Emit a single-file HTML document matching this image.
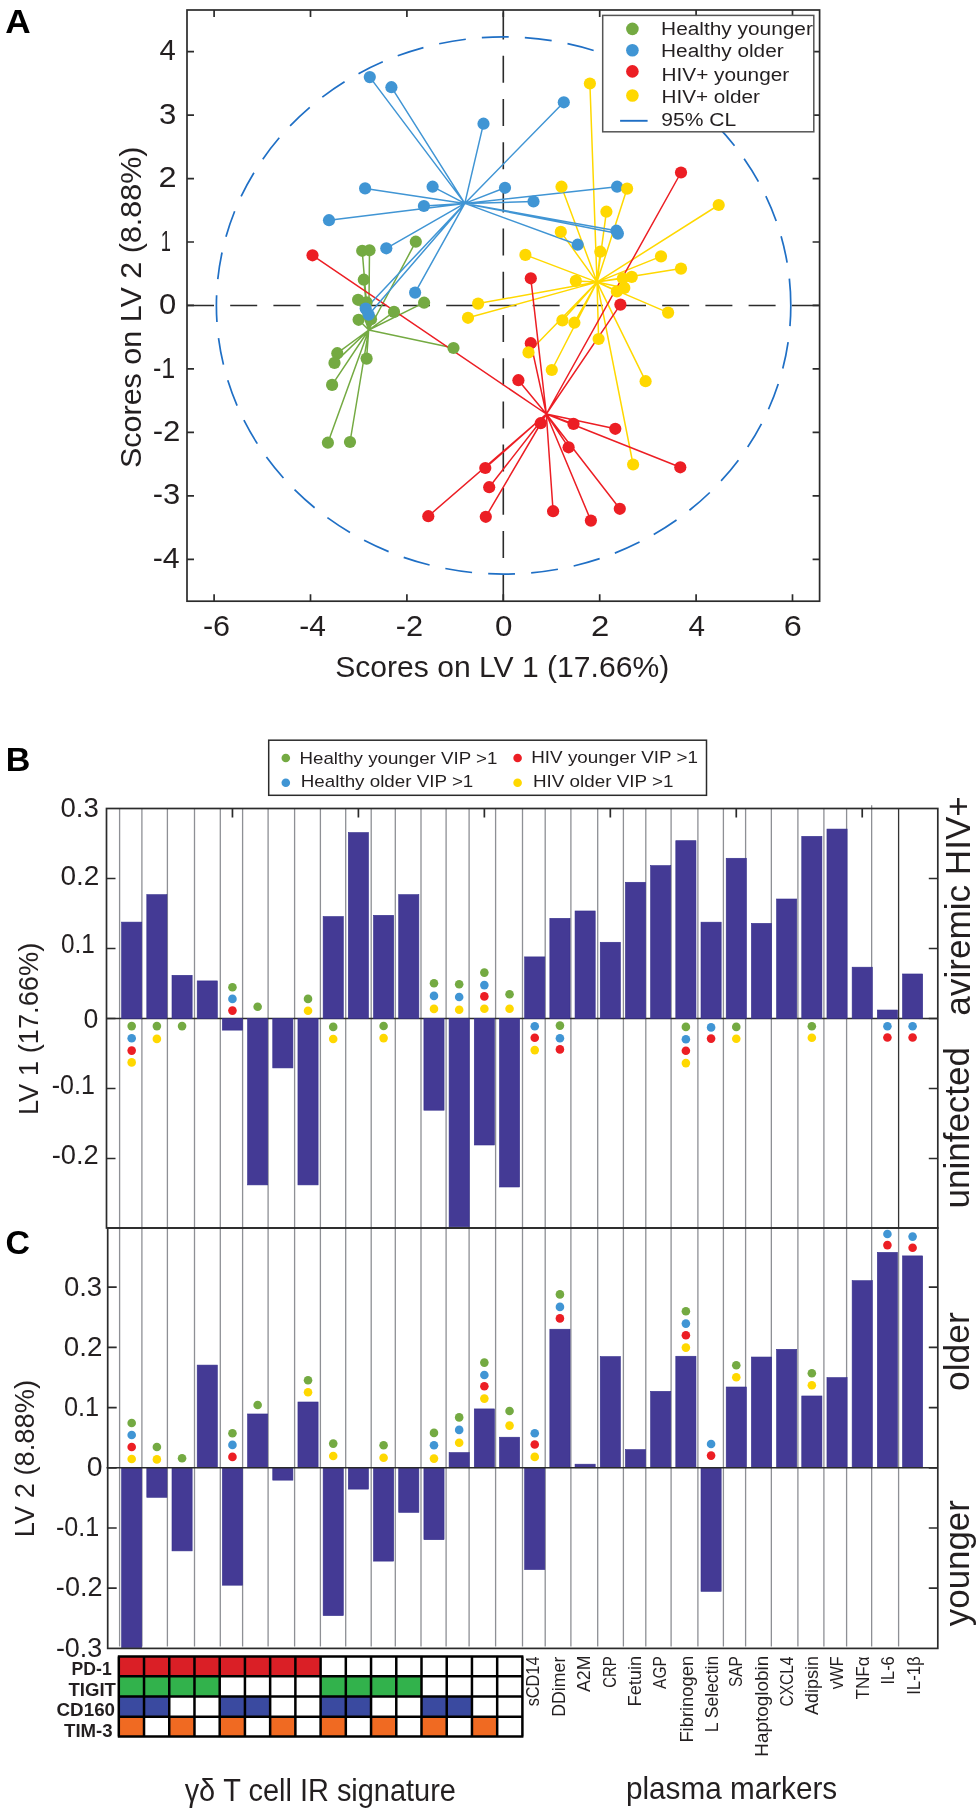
<!DOCTYPE html>
<html><head><meta charset="utf-8"><title>Figure</title>
<style>html,body{margin:0;padding:0;background:#fff;}svg{display:block;will-change:transform;}text{font-family:'Liberation Sans', sans-serif;}</style>
</head><body>
<svg width="980" height="1815" viewBox="0 0 980 1815">
<rect x="0" y="0" width="980" height="1815" fill="#fff"/>
<text x="5.22" y="32.80" font-size="33" font-weight="bold" fill="#000" textLength="25.44" lengthAdjust="spacingAndGlyphs">A</text>
<text x="5.70" y="770.90" font-size="33" font-weight="bold" fill="#000" textLength="24.63" lengthAdjust="spacingAndGlyphs">B</text>
<text x="5.54" y="1253.80" font-size="33" font-weight="bold" fill="#000" textLength="24.48" lengthAdjust="spacingAndGlyphs">C</text>
<line x1="187.0" y1="305.45" x2="819.6" y2="305.45" stroke="#2b2b2b" stroke-width="1.6" stroke-dasharray="27 16.2"/>
<line x1="503.3" y1="601.2" x2="503.3" y2="10.0" stroke="#2b2b2b" stroke-width="1.6" stroke-dasharray="27 16.2"/>
<path d="M790.8,305.5 A287.2,268.6 0 0 0 503.6,36.89999999999998 A287.2,268.6 0 0 0 216.40000000000003,305.5 A287.2,268.6 0 0 0 503.6,574.1 A287.2,268.6 0 0 0 790.8,305.5" fill="none" stroke="#1f6fc5" stroke-width="1.7" stroke-dasharray="27 16.13"/>
<path d="M368.7,330.0L362.2,250.8M368.7,330.0L369.5,250.3M368.7,330.0L415.8,241.7M368.7,330.0L363.8,279.7M368.7,330.0L358.1,299.8M368.7,330.0L366.5,302.4M368.7,330.0L424.1,302.7M368.7,330.0L394.0,311.9M368.7,330.0L358.6,319.8M368.7,330.0L371.0,319.2M368.7,330.0L453.5,348.0M368.7,330.0L337.3,353.2M368.7,330.0L334.5,362.9M368.7,330.0L366.6,358.6M368.7,330.0L332.1,384.9M368.7,330.0L327.9,442.7M368.7,330.0L350.0,442.0" stroke="#74aa42" stroke-width="1.5" fill="none"/>
<path d="M597.0,282.1L589.9,83.5M597.0,282.1L561.5,186.7M597.0,282.1L627.1,188.6M597.0,282.1L606.4,211.7M597.0,282.1L718.7,205.0M597.0,282.1L560.8,231.9M597.0,282.1L600.3,251.7M597.0,282.1L525.4,254.9M597.0,282.1L661.0,256.4M597.0,282.1L681.0,268.6M597.0,282.1L575.8,280.9M597.0,282.1L622.9,278.3M597.0,282.1L631.7,276.9M597.0,282.1L624.3,287.9M597.0,282.1L616.9,291.4M597.0,282.1L668.1,312.6M597.0,282.1L562.4,320.4M597.0,282.1L574.4,322.7M597.0,282.1L598.6,339.0M597.0,282.1L528.5,352.4M597.0,282.1L551.8,370.0M597.0,282.1L645.6,381.2M597.0,282.1L633.1,464.5M597.0,282.1L478.1,303.6M597.0,282.1L468.0,317.8" stroke="#ffd800" stroke-width="1.5" fill="none"/>
<path d="M546.3,414.0L312.5,255.3M546.3,414.0L681.0,172.5M546.3,414.0L530.8,278.3M546.3,414.0L620.4,304.6M546.3,414.0L530.8,343.2M546.3,414.0L518.4,380.2M546.3,414.0L540.7,423.2M546.3,414.0L573.5,423.9M546.3,414.0L615.3,428.8M546.3,414.0L568.6,447.3M546.3,414.0L680.3,467.3M546.3,414.0L485.3,468.0M546.3,414.0L489.2,487.2M546.3,414.0L428.3,516.2M546.3,414.0L485.8,516.8M546.3,414.0L553.1,511.2M546.3,414.0L619.8,508.8M546.3,414.0L590.9,520.6" stroke="#ec1e24" stroke-width="1.5" fill="none"/>
<path d="M464.8,203.4L369.8,77.1M464.8,203.4L391.4,87.2M464.8,203.4L483.5,123.7M464.8,203.4L365.1,188.4M464.8,203.4L432.6,186.7M464.8,203.4L423.9,206.0M464.8,203.4L329.0,220.2M464.8,203.4L505.0,187.8M464.8,203.4L386.3,248.3M464.8,203.4L415.1,292.6M464.8,203.4L365.7,308.6M464.8,203.4L368.7,314.7M464.8,203.4L563.8,102.3M464.8,203.4L617.1,186.7M464.8,203.4L533.5,201.5M464.8,203.4L616.4,230.7M464.8,203.4L617.9,233.6M464.8,203.4L577.7,244.7" stroke="#4095d4" stroke-width="1.5" fill="none"/>
<circle cx="362.2" cy="250.8" r="6.1" fill="#74aa42"/>
<circle cx="369.5" cy="250.3" r="6.1" fill="#74aa42"/>
<circle cx="415.8" cy="241.7" r="6.1" fill="#74aa42"/>
<circle cx="363.8" cy="279.7" r="6.1" fill="#74aa42"/>
<circle cx="358.1" cy="299.8" r="6.1" fill="#74aa42"/>
<circle cx="366.5" cy="302.4" r="6.1" fill="#74aa42"/>
<circle cx="424.1" cy="302.7" r="6.1" fill="#74aa42"/>
<circle cx="394.0" cy="311.9" r="6.1" fill="#74aa42"/>
<circle cx="358.6" cy="319.8" r="6.1" fill="#74aa42"/>
<circle cx="371.0" cy="319.2" r="6.1" fill="#74aa42"/>
<circle cx="453.5" cy="348.0" r="6.1" fill="#74aa42"/>
<circle cx="337.3" cy="353.2" r="6.1" fill="#74aa42"/>
<circle cx="334.5" cy="362.9" r="6.1" fill="#74aa42"/>
<circle cx="366.6" cy="358.6" r="6.1" fill="#74aa42"/>
<circle cx="332.1" cy="384.9" r="6.1" fill="#74aa42"/>
<circle cx="327.9" cy="442.7" r="6.1" fill="#74aa42"/>
<circle cx="350.0" cy="442.0" r="6.1" fill="#74aa42"/>
<circle cx="369.8" cy="77.1" r="6.1" fill="#4095d4"/>
<circle cx="391.4" cy="87.2" r="6.1" fill="#4095d4"/>
<circle cx="483.5" cy="123.7" r="6.1" fill="#4095d4"/>
<circle cx="365.1" cy="188.4" r="6.1" fill="#4095d4"/>
<circle cx="432.6" cy="186.7" r="6.1" fill="#4095d4"/>
<circle cx="423.9" cy="206.0" r="6.1" fill="#4095d4"/>
<circle cx="329.0" cy="220.2" r="6.1" fill="#4095d4"/>
<circle cx="505.0" cy="187.8" r="6.1" fill="#4095d4"/>
<circle cx="386.3" cy="248.3" r="6.1" fill="#4095d4"/>
<circle cx="415.1" cy="292.6" r="6.1" fill="#4095d4"/>
<circle cx="365.7" cy="308.6" r="6.1" fill="#4095d4"/>
<circle cx="368.7" cy="314.7" r="6.1" fill="#4095d4"/>
<circle cx="563.8" cy="102.3" r="6.1" fill="#4095d4"/>
<circle cx="617.1" cy="186.7" r="6.1" fill="#4095d4"/>
<circle cx="533.5" cy="201.5" r="6.1" fill="#4095d4"/>
<circle cx="616.4" cy="230.7" r="6.1" fill="#4095d4"/>
<circle cx="617.9" cy="233.6" r="6.1" fill="#4095d4"/>
<circle cx="577.7" cy="244.7" r="6.1" fill="#4095d4"/>
<circle cx="312.5" cy="255.3" r="6.1" fill="#ec1e24"/>
<circle cx="681.0" cy="172.5" r="6.1" fill="#ec1e24"/>
<circle cx="530.8" cy="278.3" r="6.1" fill="#ec1e24"/>
<circle cx="620.4" cy="304.6" r="6.1" fill="#ec1e24"/>
<circle cx="530.8" cy="343.2" r="6.1" fill="#ec1e24"/>
<circle cx="518.4" cy="380.2" r="6.1" fill="#ec1e24"/>
<circle cx="540.7" cy="423.2" r="6.1" fill="#ec1e24"/>
<circle cx="573.5" cy="423.9" r="6.1" fill="#ec1e24"/>
<circle cx="615.3" cy="428.8" r="6.1" fill="#ec1e24"/>
<circle cx="568.6" cy="447.3" r="6.1" fill="#ec1e24"/>
<circle cx="680.3" cy="467.3" r="6.1" fill="#ec1e24"/>
<circle cx="485.3" cy="468.0" r="6.1" fill="#ec1e24"/>
<circle cx="489.2" cy="487.2" r="6.1" fill="#ec1e24"/>
<circle cx="428.3" cy="516.2" r="6.1" fill="#ec1e24"/>
<circle cx="485.8" cy="516.8" r="6.1" fill="#ec1e24"/>
<circle cx="553.1" cy="511.2" r="6.1" fill="#ec1e24"/>
<circle cx="619.8" cy="508.8" r="6.1" fill="#ec1e24"/>
<circle cx="590.9" cy="520.6" r="6.1" fill="#ec1e24"/>
<circle cx="589.9" cy="83.5" r="6.1" fill="#ffd800"/>
<circle cx="561.5" cy="186.7" r="6.1" fill="#ffd800"/>
<circle cx="627.1" cy="188.6" r="6.1" fill="#ffd800"/>
<circle cx="606.4" cy="211.7" r="6.1" fill="#ffd800"/>
<circle cx="718.7" cy="205.0" r="6.1" fill="#ffd800"/>
<circle cx="560.8" cy="231.9" r="6.1" fill="#ffd800"/>
<circle cx="600.3" cy="251.7" r="6.1" fill="#ffd800"/>
<circle cx="525.4" cy="254.9" r="6.1" fill="#ffd800"/>
<circle cx="661.0" cy="256.4" r="6.1" fill="#ffd800"/>
<circle cx="681.0" cy="268.6" r="6.1" fill="#ffd800"/>
<circle cx="575.8" cy="280.9" r="6.1" fill="#ffd800"/>
<circle cx="622.9" cy="278.3" r="6.1" fill="#ffd800"/>
<circle cx="631.7" cy="276.9" r="6.1" fill="#ffd800"/>
<circle cx="624.3" cy="287.9" r="6.1" fill="#ffd800"/>
<circle cx="616.9" cy="291.4" r="6.1" fill="#ffd800"/>
<circle cx="668.1" cy="312.6" r="6.1" fill="#ffd800"/>
<circle cx="562.4" cy="320.4" r="6.1" fill="#ffd800"/>
<circle cx="574.4" cy="322.7" r="6.1" fill="#ffd800"/>
<circle cx="598.6" cy="339.0" r="6.1" fill="#ffd800"/>
<circle cx="528.5" cy="352.4" r="6.1" fill="#ffd800"/>
<circle cx="551.8" cy="370.0" r="6.1" fill="#ffd800"/>
<circle cx="645.6" cy="381.2" r="6.1" fill="#ffd800"/>
<circle cx="633.1" cy="464.5" r="6.1" fill="#ffd800"/>
<circle cx="478.1" cy="303.6" r="6.1" fill="#ffd800"/>
<circle cx="468.0" cy="317.8" r="6.1" fill="#ffd800"/>
<rect x="187.0" y="10.0" width="632.6" height="591.2" fill="none" stroke="#2b2b2b" stroke-width="1.7"/>
<path d="M214.09999999999997,601.2V594.2M214.09999999999997,10.0V17.0M310.5,601.2V594.2M310.5,10.0V17.0M406.9,601.2V594.2M406.9,10.0V17.0M503.3,601.2V594.2M503.3,10.0V17.0M599.7,601.2V594.2M599.7,10.0V17.0M696.1,601.2V594.2M696.1,10.0V17.0M792.5,601.2V594.2M792.5,10.0V17.0M187.0,559.29H194.0M819.6,559.29H812.6M187.0,495.83H194.0M819.6,495.83H812.6M187.0,432.37H194.0M819.6,432.37H812.6M187.0,368.90999999999997H194.0M819.6,368.90999999999997H812.6M187.0,305.45H194.0M819.6,305.45H812.6M187.0,241.98999999999998H194.0M819.6,241.98999999999998H812.6M187.0,178.52999999999997H194.0M819.6,178.52999999999997H812.6M187.0,115.07H194.0M819.6,115.07H812.6M187.0,51.609999999999985H194.0M819.6,51.609999999999985H812.6" stroke="#2b2b2b" stroke-width="1.7" fill="none"/>
<text x="202.93" y="635.54" font-size="29.5" fill="#231f20" textLength="27.12" lengthAdjust="spacingAndGlyphs">-6</text>
<text x="299.35" y="635.54" font-size="29.5" fill="#231f20" textLength="26.62" lengthAdjust="spacingAndGlyphs">-4</text>
<text x="395.71" y="635.69" font-size="29.5" fill="#231f20" textLength="27.38" lengthAdjust="spacingAndGlyphs">-2</text>
<text x="495.04" y="635.54" font-size="29.5" fill="#231f20" textLength="17.47" lengthAdjust="spacingAndGlyphs">0</text>
<text x="591.05" y="635.69" font-size="29.5" fill="#231f20" textLength="18.34" lengthAdjust="spacingAndGlyphs">2</text>
<text x="688.43" y="635.54" font-size="29.5" fill="#231f20" textLength="16.52" lengthAdjust="spacingAndGlyphs">4</text>
<text x="783.88" y="635.54" font-size="29.5" fill="#231f20" textLength="18.04" lengthAdjust="spacingAndGlyphs">6</text>
<text x="152.74" y="567.93" font-size="29.5" fill="#231f20" textLength="26.95" lengthAdjust="spacingAndGlyphs">-4</text>
<text x="152.71" y="504.47" font-size="29.5" fill="#231f20" textLength="27.45" lengthAdjust="spacingAndGlyphs">-3</text>
<text x="152.70" y="441.16" font-size="29.5" fill="#231f20" textLength="27.71" lengthAdjust="spacingAndGlyphs">-2</text>
<text x="152.97" y="377.55" font-size="29.5" fill="#231f20" textLength="22.26" lengthAdjust="spacingAndGlyphs">-1</text>
<text x="158.96" y="314.09" font-size="29.5" fill="#231f20" textLength="17.24" lengthAdjust="spacingAndGlyphs">0</text>
<text x="160.83" y="250.63" font-size="29.5" fill="#231f20" textLength="10.16" lengthAdjust="spacingAndGlyphs">1</text>
<text x="158.57" y="187.32" font-size="29.5" fill="#231f20" textLength="18.09" lengthAdjust="spacingAndGlyphs">2</text>
<text x="159.03" y="123.71" font-size="29.5" fill="#231f20" textLength="17.33" lengthAdjust="spacingAndGlyphs">3</text>
<text x="159.54" y="60.25" font-size="29.5" fill="#231f20" textLength="16.30" lengthAdjust="spacingAndGlyphs">4</text>
<text x="335.15" y="676.80" font-size="30" fill="#231f20" textLength="334.10" lengthAdjust="spacingAndGlyphs">Scores on LV 1 (17.66%)</text>
<text transform="translate(140.50,468.07) rotate(-90)" font-size="30" fill="#231f20" textLength="321.61" lengthAdjust="spacingAndGlyphs">Scores on LV 2 (8.88%)</text>
<rect x="602.7" y="15.4" width="211.0999999999999" height="116.4" fill="#fff" stroke="#555" stroke-width="1.5"/>
<circle cx="632.4" cy="28.9" r="6.3" fill="#74aa42"/>
<circle cx="632.4" cy="50.2" r="6.3" fill="#4095d4"/>
<circle cx="632.4" cy="71.4" r="6.3" fill="#ec1e24"/>
<circle cx="632.4" cy="95.5" r="6.3" fill="#ffd800"/>
<text x="661.08" y="35.10" font-size="18.0" fill="#231f20" textLength="151.83" lengthAdjust="spacingAndGlyphs">Healthy younger</text>
<text x="661.08" y="57.40" font-size="18.0" fill="#231f20" textLength="122.63" lengthAdjust="spacingAndGlyphs">Healthy older</text>
<text x="661.48" y="80.70" font-size="18.0" fill="#231f20" textLength="127.73" lengthAdjust="spacingAndGlyphs">HIV+ younger</text>
<text x="661.49" y="103.30" font-size="18.0" fill="#231f20" textLength="98.32" lengthAdjust="spacingAndGlyphs">HIV+ older</text>
<text x="661.30" y="126.10" font-size="18.0" fill="#231f20" textLength="74.89" lengthAdjust="spacingAndGlyphs">95% CL</text>
<line x1="620.1" y1="120.8" x2="647.6" y2="120.8" stroke="#1f6fc5" stroke-width="1.9"/>
<path d="M119.6,808.5V1646.5M141.9,808.5V1646.5M167.4,808.5V1646.5M194.5,808.5V1646.5M220.3,808.5V1646.5M242.6,808.5V1646.5M268.1,808.5V1646.5M294.6,808.5V1646.5M320.4,808.5V1646.5M345.7,808.5V1646.5M371.2,808.5V1646.5M395.3,808.5V1646.5M421.0,808.5V1646.5M446.1,808.5V1646.5M469.1,808.5V1646.5M495.6,808.5V1646.5M522.5,808.5V1646.5M545.2,808.5V1646.5M570.9,808.5V1646.5M597.7,808.5V1646.5M623.4,808.5V1646.5M645.8,808.5V1646.5M671.1,808.5V1646.5M697.9,808.5V1646.5M723.4,808.5V1646.5M745.6,808.5V1646.5M771.35,808.5V1646.5M797.9,808.5V1646.5M823.9,808.5V1646.5M846.6,808.5V1646.5M871.65,808.5V1646.5M871.65,805.3V808.5M898.6,1228V1646.5" stroke="#8e9095" stroke-width="1.3" fill="none"/>
<path d="M898.6,808.5V1228" stroke="#333" stroke-width="1.3" fill="none"/>
<line x1="106.5" y1="1018.5" x2="937.8" y2="1018.5" stroke="#2b2b2b" stroke-width="1.6"/>
<g fill="#443a95" stroke="#342f8c" stroke-width="0.6"><rect x="121.61" y="922.11" width="20.15" height="96.39"/><rect x="146.81" y="894.67" width="20.15" height="123.83"/><rect x="172.00" y="975.31" width="20.15" height="43.19"/><rect x="197.19" y="980.91" width="20.15" height="37.59"/><rect x="222.38" y="1018.50" width="20.15" height="11.62"/><rect x="247.57" y="1018.50" width="20.15" height="166.39"/><rect x="272.76" y="1018.50" width="20.15" height="49.42"/><rect x="297.95" y="1018.50" width="20.15" height="166.39"/><rect x="323.14" y="916.58" width="20.15" height="101.92"/><rect x="348.33" y="832.58" width="20.15" height="185.92"/><rect x="373.52" y="915.32" width="20.15" height="103.18"/><rect x="398.71" y="894.67" width="20.15" height="123.83"/><rect x="423.91" y="1018.50" width="20.15" height="91.70"/><rect x="449.10" y="1018.50" width="20.15" height="208.25"/><rect x="474.29" y="1018.50" width="20.15" height="126.49"/><rect x="499.48" y="1018.50" width="20.15" height="168.49"/><rect x="524.67" y="956.90" width="20.15" height="61.60"/><rect x="549.86" y="918.33" width="20.15" height="100.17"/><rect x="575.05" y="910.98" width="20.15" height="107.52"/><rect x="600.24" y="942.27" width="20.15" height="76.23"/><rect x="625.43" y="882.28" width="20.15" height="136.22"/><rect x="650.62" y="865.62" width="20.15" height="152.88"/><rect x="675.81" y="840.70" width="20.15" height="177.80"/><rect x="701.01" y="922.18" width="20.15" height="96.32"/><rect x="726.20" y="858.27" width="20.15" height="160.23"/><rect x="751.39" y="923.37" width="20.15" height="95.13"/><rect x="776.58" y="899.01" width="20.15" height="119.49"/><rect x="801.77" y="836.36" width="20.15" height="182.14"/><rect x="826.96" y="829.08" width="20.15" height="189.42"/><rect x="852.15" y="967.19" width="20.15" height="51.31"/><rect x="877.34" y="1010.03" width="20.15" height="8.47"/><rect x="902.53" y="973.98" width="20.15" height="44.52"/><rect x="121.61" y="1467.80" width="20.15" height="179.88"/><rect x="146.81" y="1467.80" width="20.15" height="29.50"/><rect x="172.00" y="1467.80" width="20.15" height="83.08"/><rect x="197.19" y="1365.10" width="20.15" height="102.70"/><rect x="222.38" y="1467.80" width="20.15" height="117.39"/><rect x="247.57" y="1413.98" width="20.15" height="53.82"/><rect x="272.76" y="1467.80" width="20.15" height="12.34"/><rect x="297.95" y="1402.00" width="20.15" height="65.80"/><rect x="323.14" y="1467.80" width="20.15" height="147.79"/><rect x="348.33" y="1467.80" width="20.15" height="21.31"/><rect x="373.52" y="1467.80" width="20.15" height="93.31"/><rect x="398.71" y="1467.80" width="20.15" height="44.55"/><rect x="423.91" y="1467.80" width="20.15" height="71.88"/><rect x="449.10" y="1452.57" width="20.15" height="15.23"/><rect x="474.29" y="1408.92" width="20.15" height="58.88"/><rect x="499.48" y="1437.22" width="20.15" height="30.58"/><rect x="524.67" y="1467.80" width="20.15" height="101.74"/><rect x="549.86" y="1329.22" width="20.15" height="138.58"/><rect x="575.05" y="1464.19" width="20.15" height="3.61"/><rect x="600.24" y="1356.61" width="20.15" height="111.19"/><rect x="625.43" y="1449.62" width="20.15" height="18.18"/><rect x="650.62" y="1391.35" width="20.15" height="76.45"/><rect x="675.81" y="1356.25" width="20.15" height="111.55"/><rect x="701.01" y="1467.80" width="20.15" height="123.53"/><rect x="726.20" y="1387.01" width="20.15" height="80.79"/><rect x="751.39" y="1357.03" width="20.15" height="110.77"/><rect x="776.58" y="1349.33" width="20.15" height="118.47"/><rect x="801.77" y="1395.98" width="20.15" height="71.82"/><rect x="826.96" y="1377.62" width="20.15" height="90.18"/><rect x="852.15" y="1280.70" width="20.15" height="187.10"/><rect x="877.34" y="1252.40" width="20.15" height="215.40"/><rect x="902.53" y="1255.90" width="20.15" height="211.90"/></g>
<line x1="106.5" y1="1467.8" x2="937.8" y2="1467.8" stroke="#2b2b2b" stroke-width="1.6"/>
<rect x="106.5" y="808.5" width="831.3" height="419.5" fill="none" stroke="#2b2b2b" stroke-width="1.7"/>
<rect x="107.7" y="1228.0" width="830.0999999999999" height="420.4000000000001" fill="none" stroke="#2b2b2b" stroke-width="1.7"/>
<path d="M232.45454545454544,808.5V817.5M358.4090909090909,808.5V817.5M484.3636363636363,808.5V817.5M610.3181818181818,808.5V817.5M736.2727272727273,808.5V817.5M862.2272727272726,808.5V817.5M106.5,1158.5H115.5M937.8,1158.5H928.8M106.5,1088.5H115.5M937.8,1088.5H928.8M106.5,1018.5H115.5M937.8,1018.5H928.8M106.5,948.5H115.5M937.8,948.5H928.8M106.5,878.5H115.5M937.8,878.5H928.8M107.7,1588.2H116.7M937.8,1588.2H928.8M107.7,1528.0H116.7M937.8,1528.0H928.8M107.7,1467.8H116.7M937.8,1467.8H928.8M107.7,1407.6H116.7M937.8,1407.6H928.8M107.7,1347.3999999999999H116.7M937.8,1347.3999999999999H928.8M107.7,1287.2H116.7M937.8,1287.2H928.8" stroke="#2b2b2b" stroke-width="1.7" fill="none"/>
<text x="60.50" y="817.08" font-size="27" fill="#231f20" textLength="38.28" lengthAdjust="spacingAndGlyphs">0.3</text>
<text x="60.48" y="884.98" font-size="27" fill="#231f20" textLength="38.93" lengthAdjust="spacingAndGlyphs">0.2</text>
<text x="60.93" y="952.78" font-size="27" fill="#231f20" textLength="33.83" lengthAdjust="spacingAndGlyphs">0.1</text>
<text x="83.54" y="1027.88" font-size="27" fill="#231f20" textLength="14.79" lengthAdjust="spacingAndGlyphs">0</text>
<text x="51.78" y="1093.58" font-size="27" fill="#231f20" textLength="43.03" lengthAdjust="spacingAndGlyphs">-0.1</text>
<text x="51.67" y="1163.68" font-size="27" fill="#231f20" textLength="47.01" lengthAdjust="spacingAndGlyphs">-0.2</text>
<text x="63.90" y="1295.78" font-size="27" fill="#231f20" textLength="38.17" lengthAdjust="spacingAndGlyphs">0.3</text>
<text x="63.89" y="1355.78" font-size="27" fill="#231f20" textLength="38.50" lengthAdjust="spacingAndGlyphs">0.2</text>
<text x="63.99" y="1415.98" font-size="27" fill="#231f20" textLength="35.22" lengthAdjust="spacingAndGlyphs">0.1</text>
<text x="86.76" y="1476.18" font-size="27" fill="#231f20" textLength="15.84" lengthAdjust="spacingAndGlyphs">0</text>
<text x="55.97" y="1536.48" font-size="27" fill="#231f20" textLength="43.24" lengthAdjust="spacingAndGlyphs">-0.1</text>
<text x="55.88" y="1596.48" font-size="27" fill="#231f20" textLength="46.59" lengthAdjust="spacingAndGlyphs">-0.2</text>
<text x="55.89" y="1656.78" font-size="27" fill="#231f20" textLength="46.37" lengthAdjust="spacingAndGlyphs">-0.3</text>
<text transform="translate(37.70,1115.05) rotate(-90)" font-size="27.5" fill="#231f20" textLength="172.42" lengthAdjust="spacingAndGlyphs">LV 1 (17.66%)</text>
<text transform="translate(33.60,1537.35) rotate(-90)" font-size="27.5" fill="#231f20" textLength="157.49" lengthAdjust="spacingAndGlyphs">LV 2 (8.88%)</text>
<text transform="translate(970.00,1015.69) rotate(-90)" font-size="34.5" fill="#231f20" textLength="219.52" lengthAdjust="spacingAndGlyphs">aviremic HIV+</text>
<text transform="translate(969.40,1208.58) rotate(-90)" font-size="34.5" fill="#231f20" textLength="161.66" lengthAdjust="spacingAndGlyphs">uninfected</text>
<text transform="translate(968.60,1391.00) rotate(-90)" font-size="34.5" fill="#231f20" textLength="78.68" lengthAdjust="spacingAndGlyphs">older</text>
<text transform="translate(968.50,1626.19) rotate(-90)" font-size="34.5" fill="#231f20" textLength="126.06" lengthAdjust="spacingAndGlyphs">younger</text>
<circle cx="131.69" cy="1026.1" r="4.3" fill="#74aa42"/>
<circle cx="131.69" cy="1038.2" r="4.3" fill="#4095d4"/>
<circle cx="131.69" cy="1050.6" r="4.3" fill="#ec1e24"/>
<circle cx="131.69" cy="1062.4" r="4.3" fill="#ffd800"/>
<circle cx="156.88" cy="1026.1" r="4.3" fill="#74aa42"/>
<circle cx="156.88" cy="1038.9" r="4.3" fill="#ffd800"/>
<circle cx="182.07" cy="1026.1" r="4.3" fill="#74aa42"/>
<circle cx="232.45" cy="987.2" r="4.3" fill="#74aa42"/>
<circle cx="232.45" cy="998.9" r="4.3" fill="#4095d4"/>
<circle cx="232.45" cy="1010.6" r="4.3" fill="#ec1e24"/>
<circle cx="257.65" cy="1006.8" r="4.3" fill="#74aa42"/>
<circle cx="308.03" cy="998.9" r="4.3" fill="#74aa42"/>
<circle cx="308.03" cy="1010.8" r="4.3" fill="#ffd800"/>
<circle cx="333.22" cy="1026.9" r="4.3" fill="#74aa42"/>
<circle cx="333.22" cy="1039.0" r="4.3" fill="#ffd800"/>
<circle cx="383.60" cy="1026.0" r="4.3" fill="#74aa42"/>
<circle cx="383.60" cy="1038.1" r="4.3" fill="#ffd800"/>
<circle cx="433.98" cy="983.3" r="4.3" fill="#74aa42"/>
<circle cx="433.98" cy="995.9" r="4.3" fill="#4095d4"/>
<circle cx="433.98" cy="1008.9" r="4.3" fill="#ffd800"/>
<circle cx="459.17" cy="984.2" r="4.3" fill="#74aa42"/>
<circle cx="459.17" cy="997.0" r="4.3" fill="#4095d4"/>
<circle cx="459.17" cy="1009.8" r="4.3" fill="#ffd800"/>
<circle cx="484.36" cy="972.6" r="4.3" fill="#74aa42"/>
<circle cx="484.36" cy="985.1" r="4.3" fill="#4095d4"/>
<circle cx="484.36" cy="996.4" r="4.3" fill="#ec1e24"/>
<circle cx="484.36" cy="1008.7" r="4.3" fill="#ffd800"/>
<circle cx="509.55" cy="994.3" r="4.3" fill="#74aa42"/>
<circle cx="509.55" cy="1008.7" r="4.3" fill="#ffd800"/>
<circle cx="534.75" cy="1026.3" r="4.3" fill="#4095d4"/>
<circle cx="534.75" cy="1037.7" r="4.3" fill="#ec1e24"/>
<circle cx="534.75" cy="1050.1" r="4.3" fill="#ffd800"/>
<circle cx="559.94" cy="1025.6" r="4.3" fill="#74aa42"/>
<circle cx="559.94" cy="1038.2" r="4.3" fill="#4095d4"/>
<circle cx="559.94" cy="1049.4" r="4.3" fill="#ec1e24"/>
<circle cx="685.89" cy="1026.9" r="4.3" fill="#74aa42"/>
<circle cx="685.89" cy="1039.3" r="4.3" fill="#4095d4"/>
<circle cx="685.89" cy="1050.7" r="4.3" fill="#ec1e24"/>
<circle cx="685.89" cy="1063.1" r="4.3" fill="#ffd800"/>
<circle cx="711.08" cy="1027.4" r="4.3" fill="#4095d4"/>
<circle cx="711.08" cy="1038.6" r="4.3" fill="#ec1e24"/>
<circle cx="736.27" cy="1026.9" r="4.3" fill="#74aa42"/>
<circle cx="736.27" cy="1038.8" r="4.3" fill="#ffd800"/>
<circle cx="811.85" cy="1026.3" r="4.3" fill="#74aa42"/>
<circle cx="811.85" cy="1037.7" r="4.3" fill="#ffd800"/>
<circle cx="887.42" cy="1026.3" r="4.3" fill="#4095d4"/>
<circle cx="887.42" cy="1037.5" r="4.3" fill="#ec1e24"/>
<circle cx="912.61" cy="1026.3" r="4.3" fill="#4095d4"/>
<circle cx="912.61" cy="1037.5" r="4.3" fill="#ec1e24"/>
<circle cx="131.69" cy="1423.0" r="4.3" fill="#74aa42"/>
<circle cx="131.69" cy="1435.0" r="4.3" fill="#4095d4"/>
<circle cx="131.69" cy="1447.0" r="4.3" fill="#ec1e24"/>
<circle cx="131.69" cy="1459.0" r="4.3" fill="#ffd800"/>
<circle cx="156.88" cy="1447.0" r="4.3" fill="#74aa42"/>
<circle cx="156.88" cy="1459.4" r="4.3" fill="#ffd800"/>
<circle cx="182.07" cy="1458.2" r="4.3" fill="#74aa42"/>
<circle cx="232.45" cy="1433.3" r="4.3" fill="#74aa42"/>
<circle cx="232.45" cy="1444.9" r="4.3" fill="#4095d4"/>
<circle cx="232.45" cy="1456.9" r="4.3" fill="#ec1e24"/>
<circle cx="257.65" cy="1405.0" r="4.3" fill="#74aa42"/>
<circle cx="308.03" cy="1380.2" r="4.3" fill="#74aa42"/>
<circle cx="308.03" cy="1392.2" r="4.3" fill="#ffd800"/>
<circle cx="333.22" cy="1443.6" r="4.3" fill="#74aa42"/>
<circle cx="333.22" cy="1456.0" r="4.3" fill="#ffd800"/>
<circle cx="383.60" cy="1445.3" r="4.3" fill="#74aa42"/>
<circle cx="383.60" cy="1457.7" r="4.3" fill="#ffd800"/>
<circle cx="433.98" cy="1432.9" r="4.3" fill="#74aa42"/>
<circle cx="433.98" cy="1445.3" r="4.3" fill="#4095d4"/>
<circle cx="433.98" cy="1458.6" r="4.3" fill="#ffd800"/>
<circle cx="459.17" cy="1417.4" r="4.3" fill="#74aa42"/>
<circle cx="459.17" cy="1429.9" r="4.3" fill="#4095d4"/>
<circle cx="459.17" cy="1442.7" r="4.3" fill="#ffd800"/>
<circle cx="484.36" cy="1362.6" r="4.3" fill="#74aa42"/>
<circle cx="484.36" cy="1375.0" r="4.3" fill="#4095d4"/>
<circle cx="484.36" cy="1386.2" r="4.3" fill="#ec1e24"/>
<circle cx="484.36" cy="1398.6" r="4.3" fill="#ffd800"/>
<circle cx="509.55" cy="1411.0" r="4.3" fill="#74aa42"/>
<circle cx="509.55" cy="1425.6" r="4.3" fill="#ffd800"/>
<circle cx="534.75" cy="1433.3" r="4.3" fill="#4095d4"/>
<circle cx="534.75" cy="1444.5" r="4.3" fill="#ec1e24"/>
<circle cx="534.75" cy="1456.9" r="4.3" fill="#ffd800"/>
<circle cx="559.94" cy="1294.4" r="4.3" fill="#74aa42"/>
<circle cx="559.94" cy="1306.9" r="4.3" fill="#4095d4"/>
<circle cx="559.94" cy="1318.4" r="4.3" fill="#ec1e24"/>
<circle cx="685.89" cy="1311.2" r="4.3" fill="#74aa42"/>
<circle cx="685.89" cy="1323.6" r="4.3" fill="#4095d4"/>
<circle cx="685.89" cy="1335.2" r="4.3" fill="#ec1e24"/>
<circle cx="685.89" cy="1347.6" r="4.3" fill="#ffd800"/>
<circle cx="711.08" cy="1444.0" r="4.3" fill="#4095d4"/>
<circle cx="711.08" cy="1455.6" r="4.3" fill="#ec1e24"/>
<circle cx="736.27" cy="1365.2" r="4.3" fill="#74aa42"/>
<circle cx="736.27" cy="1377.2" r="4.3" fill="#ffd800"/>
<circle cx="811.85" cy="1373.3" r="4.3" fill="#74aa42"/>
<circle cx="811.85" cy="1385.3" r="4.3" fill="#ffd800"/>
<circle cx="887.42" cy="1234.0" r="4.3" fill="#4095d4"/>
<circle cx="887.42" cy="1245.1" r="4.3" fill="#ec1e24"/>
<circle cx="912.61" cy="1236.6" r="4.3" fill="#4095d4"/>
<circle cx="912.61" cy="1247.7" r="4.3" fill="#ec1e24"/>
<rect x="268.7" y="740.2" width="437.8" height="55.09999999999991" fill="#fff" stroke="#2b2b2b" stroke-width="1.5"/>
<circle cx="285.8" cy="758.0" r="4.3" fill="#74aa42"/>
<circle cx="285.8" cy="782.7" r="4.3" fill="#4095d4"/>
<circle cx="517.6" cy="758.0" r="4.3" fill="#ec1e24"/>
<circle cx="517.6" cy="782.7" r="4.3" fill="#ffd800"/>
<text x="299.56" y="763.6" font-size="17.0" fill="#231f20" textLength="197.77" lengthAdjust="spacingAndGlyphs">Healthy younger VIP &gt;1</text>
<text x="300.75" y="787.1" font-size="17.0" fill="#231f20" textLength="172.58" lengthAdjust="spacingAndGlyphs">Healthy older VIP &gt;1</text>
<text x="531.25" y="762.7" font-size="17.0" fill="#231f20" textLength="166.77" lengthAdjust="spacingAndGlyphs">HIV younger VIP &gt;1</text>
<text x="532.95" y="787.1" font-size="17.0" fill="#231f20" textLength="140.46" lengthAdjust="spacingAndGlyphs">HIV older VIP &gt;1</text>
<rect x="118.80" y="1656.5" width="25.23" height="19.80" fill="#da1f26"/>
<rect x="144.03" y="1656.5" width="25.22" height="19.80" fill="#da1f26"/>
<rect x="169.25" y="1656.5" width="25.23" height="19.80" fill="#da1f26"/>
<rect x="194.48" y="1656.5" width="25.22" height="19.80" fill="#da1f26"/>
<rect x="219.70" y="1656.5" width="25.23" height="19.80" fill="#da1f26"/>
<rect x="244.93" y="1656.5" width="25.23" height="19.80" fill="#da1f26"/>
<rect x="270.15" y="1656.5" width="25.22" height="19.80" fill="#da1f26"/>
<rect x="295.38" y="1656.5" width="25.23" height="19.80" fill="#da1f26"/>
<rect x="118.80" y="1676.3" width="25.23" height="20.30" fill="#32b24c"/>
<rect x="144.03" y="1676.3" width="25.22" height="20.30" fill="#32b24c"/>
<rect x="169.25" y="1676.3" width="25.23" height="20.30" fill="#32b24c"/>
<rect x="194.48" y="1676.3" width="25.22" height="20.30" fill="#32b24c"/>
<rect x="320.60" y="1676.3" width="25.22" height="20.30" fill="#32b24c"/>
<rect x="345.82" y="1676.3" width="25.23" height="20.30" fill="#32b24c"/>
<rect x="371.05" y="1676.3" width="25.23" height="20.30" fill="#32b24c"/>
<rect x="396.28" y="1676.3" width="25.23" height="20.30" fill="#32b24c"/>
<rect x="118.80" y="1696.6" width="25.23" height="20.20" fill="#3a4aa0"/>
<rect x="144.03" y="1696.6" width="25.22" height="20.20" fill="#3a4aa0"/>
<rect x="219.70" y="1696.6" width="25.23" height="20.20" fill="#3a4aa0"/>
<rect x="244.93" y="1696.6" width="25.23" height="20.20" fill="#3a4aa0"/>
<rect x="320.60" y="1696.6" width="25.22" height="20.20" fill="#3a4aa0"/>
<rect x="345.82" y="1696.6" width="25.23" height="20.20" fill="#3a4aa0"/>
<rect x="421.50" y="1696.6" width="25.22" height="20.20" fill="#3a4aa0"/>
<rect x="446.73" y="1696.6" width="25.23" height="20.20" fill="#3a4aa0"/>
<rect x="118.80" y="1716.8" width="25.23" height="19.80" fill="#f06a22"/>
<rect x="169.25" y="1716.8" width="25.23" height="19.80" fill="#f06a22"/>
<rect x="219.70" y="1716.8" width="25.23" height="19.80" fill="#f06a22"/>
<rect x="270.15" y="1716.8" width="25.22" height="19.80" fill="#f06a22"/>
<rect x="320.60" y="1716.8" width="25.22" height="19.80" fill="#f06a22"/>
<rect x="371.05" y="1716.8" width="25.23" height="19.80" fill="#f06a22"/>
<rect x="421.50" y="1716.8" width="25.22" height="19.80" fill="#f06a22"/>
<rect x="471.95" y="1716.8" width="25.22" height="19.80" fill="#f06a22"/>
<path d="M117.8,1656.5H523.4M117.8,1676.3H523.4M117.8,1696.6H523.4M117.8,1716.8H523.4M117.8,1736.6H523.4M118.80,1656.5V1736.6M144.03,1656.5V1736.6M169.25,1656.5V1736.6M194.48,1656.5V1736.6M219.70,1656.5V1736.6M244.93,1656.5V1736.6M270.15,1656.5V1736.6M295.38,1656.5V1736.6M320.60,1656.5V1736.6M345.82,1656.5V1736.6M371.05,1656.5V1736.6M396.28,1656.5V1736.6M421.50,1656.5V1736.6M446.73,1656.5V1736.6M471.95,1656.5V1736.6M497.18,1656.5V1736.6M522.40,1656.5V1736.6" stroke="#000" stroke-width="2.5" fill="none"/>
<text x="71.61" y="1674.90" font-size="17.7" font-weight="bold" fill="#231f20" textLength="40.09" lengthAdjust="spacingAndGlyphs">PD-1</text>
<text x="68.51" y="1695.90" font-size="17.7" font-weight="bold" fill="#231f20" textLength="47.48" lengthAdjust="spacingAndGlyphs">TIGIT</text>
<text x="56.55" y="1715.80" font-size="17.7" font-weight="bold" fill="#231f20" textLength="58.51" lengthAdjust="spacingAndGlyphs">CD160</text>
<text x="64.01" y="1736.80" font-size="17.7" font-weight="bold" fill="#231f20" textLength="48.66" lengthAdjust="spacingAndGlyphs">TIM-3</text>
<text transform="translate(539.40,1706.35) rotate(-90)" font-size="18.3" fill="#231f20" textLength="49.82" lengthAdjust="spacingAndGlyphs">sCD14</text>
<text transform="translate(565.10,1716.76) rotate(-90)" font-size="18.3" fill="#231f20" textLength="60.05" lengthAdjust="spacingAndGlyphs">DDimer</text>
<text transform="translate(590.00,1692.04) rotate(-90)" font-size="18.3" fill="#231f20" textLength="36.53" lengthAdjust="spacingAndGlyphs">A2M</text>
<text transform="translate(616.10,1687.64) rotate(-90)" font-size="18.3" fill="#231f20" textLength="31.41" lengthAdjust="spacingAndGlyphs">CRP</text>
<text transform="translate(641.10,1706.50) rotate(-90)" font-size="18.3" fill="#231f20" textLength="50.68" lengthAdjust="spacingAndGlyphs">Fetuin</text>
<text transform="translate(666.10,1688.94) rotate(-90)" font-size="18.3" fill="#231f20" textLength="32.74" lengthAdjust="spacingAndGlyphs">AGP</text>
<text transform="translate(692.60,1742.61) rotate(-90)" font-size="18.3" fill="#231f20" textLength="86.77" lengthAdjust="spacingAndGlyphs">Fibrinogen</text>
<text transform="translate(717.60,1732.15) rotate(-90)" font-size="18.3" fill="#231f20" textLength="76.28" lengthAdjust="spacingAndGlyphs">L Selectin</text>
<text transform="translate(742.10,1687.09) rotate(-90)" font-size="18.3" fill="#231f20" textLength="30.88" lengthAdjust="spacingAndGlyphs">SAP</text>
<text transform="translate(768.20,1756.66) rotate(-90)" font-size="18.3" fill="#231f20" textLength="100.84" lengthAdjust="spacingAndGlyphs">Haptoglobin</text>
<text transform="translate(792.90,1706.47) rotate(-90)" font-size="18.3" fill="#231f20" textLength="49.92" lengthAdjust="spacingAndGlyphs">CXCL4</text>
<text transform="translate(818.30,1715.05) rotate(-90)" font-size="18.3" fill="#231f20" textLength="59.22" lengthAdjust="spacingAndGlyphs">Adipsin</text>
<text transform="translate(843.10,1689.34) rotate(-90)" font-size="18.3" fill="#231f20" textLength="32.98" lengthAdjust="spacingAndGlyphs">vWF</text>
<text transform="translate(869.00,1699.38) rotate(-90)" font-size="18.3" fill="#231f20" textLength="42.84" lengthAdjust="spacingAndGlyphs">TNFα</text>
<text transform="translate(894.10,1684.51) rotate(-90)" font-size="18.3" fill="#231f20" textLength="28.22" lengthAdjust="spacingAndGlyphs">IL-6</text>
<text transform="translate(919.60,1694.85) rotate(-90)" font-size="18.3" fill="#231f20" textLength="38.54" lengthAdjust="spacingAndGlyphs">IL-1β</text>
<text x="184.63" y="1800.50" font-size="30.8" fill="#231f20" textLength="271.31" lengthAdjust="spacingAndGlyphs">γδ T cell IR signature</text>
<text x="625.97" y="1799.20" font-size="31.4" fill="#231f20" textLength="211.18" lengthAdjust="spacingAndGlyphs">plasma markers</text>
</svg>
</body></html>
